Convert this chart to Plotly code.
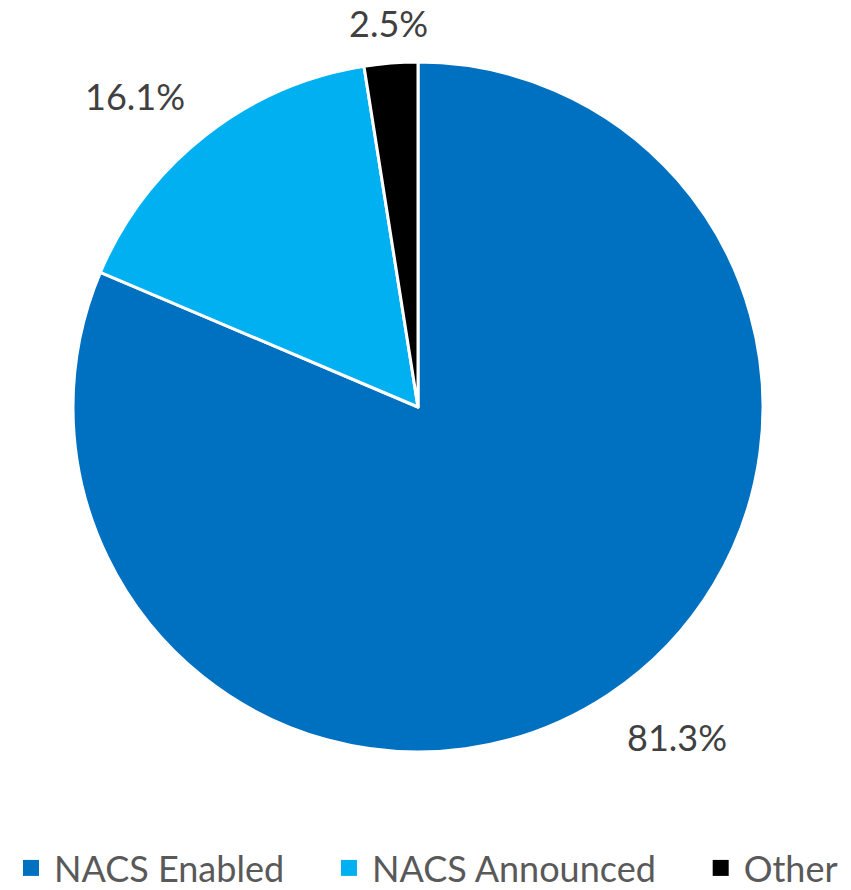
import math
import plotly.graph_objects as go

labels = ["NACS Enabled", "NACS Announced", "Other"]
values = [81.3, 16.1, 2.5]
colors = ["#0070C0", "#00B0F0", "#000000"]

W, H = 851, 890
cx, cy, r = 418, 407, 345
label_r = 375
FONT = "Lato"
PAD = "\u00a0" * 4  # extra spacing between legend entries

fig = go.Figure()
fig.add_trace(go.Pie(
    labels=labels,
    values=values,
    sort=False,
    direction="clockwise",
    rotation=0,
    marker=dict(colors=colors, line=dict(color="white", width=3)),
    textinfo="none",
    showlegend=False,
    domain=dict(x=[(cx - r) / W, (cx + r) / W], y=[(H - cy - r) / H, (H - cy + r) / H]),
    hoverinfo="label+value",
))

# legend entries (square markers)
for i, (lab, col) in enumerate(zip(labels, colors)):
    name = lab + (PAD if i < len(labels) - 1 else "")
    fig.add_trace(go.Scatter(x=[None], y=[None], mode="markers", name=name,
                             marker=dict(symbol="square", size=16, color=col),
                             showlegend=True, hoverinfo="skip"))

# data labels placed outside the slices at their mid-angles
total = sum(values)
cum = 0.0
for v in values:
    mid = (cum + v / 2) / total * 2 * math.pi
    cum += v
    s, c = math.sin(mid), math.cos(mid)
    px = cx + label_r * s
    py = cy - label_r * c
    xa = "left" if s > 0.3 else ("right" if s < -0.3 else "center")
    ya = "top" if c < -0.3 else ("bottom" if c > 0.3 else "middle")
    if ya == "top":
        ys = 7
    elif xa == "center":
        ys = -14
    else:
        ys = -8
    fig.add_annotation(x=px / W, y=1 - py / H, xref="paper", yref="paper",
                       text=f"{v:.1f}%", showarrow=False, xanchor=xa, yanchor=ya,
                       yshift=ys,
                       font=dict(family=FONT, size=36, color="#404040"))

fig.update_layout(
    width=W, height=H,
    margin=dict(l=0, r=0, t=0, b=0, autoexpand=False),
    paper_bgcolor="white",
    plot_bgcolor="white",
    xaxis=dict(visible=False),
    yaxis=dict(visible=False),
    showlegend=True,
    legend=dict(orientation="h", x=0.5, xanchor="center", y=-0.009, yanchor="bottom",
                font=dict(family=FONT, size=36, color="#595959"),
                itemsizing="trace", itemwidth=36, traceorder="normal"),
)

fig.write_html("out.html")
